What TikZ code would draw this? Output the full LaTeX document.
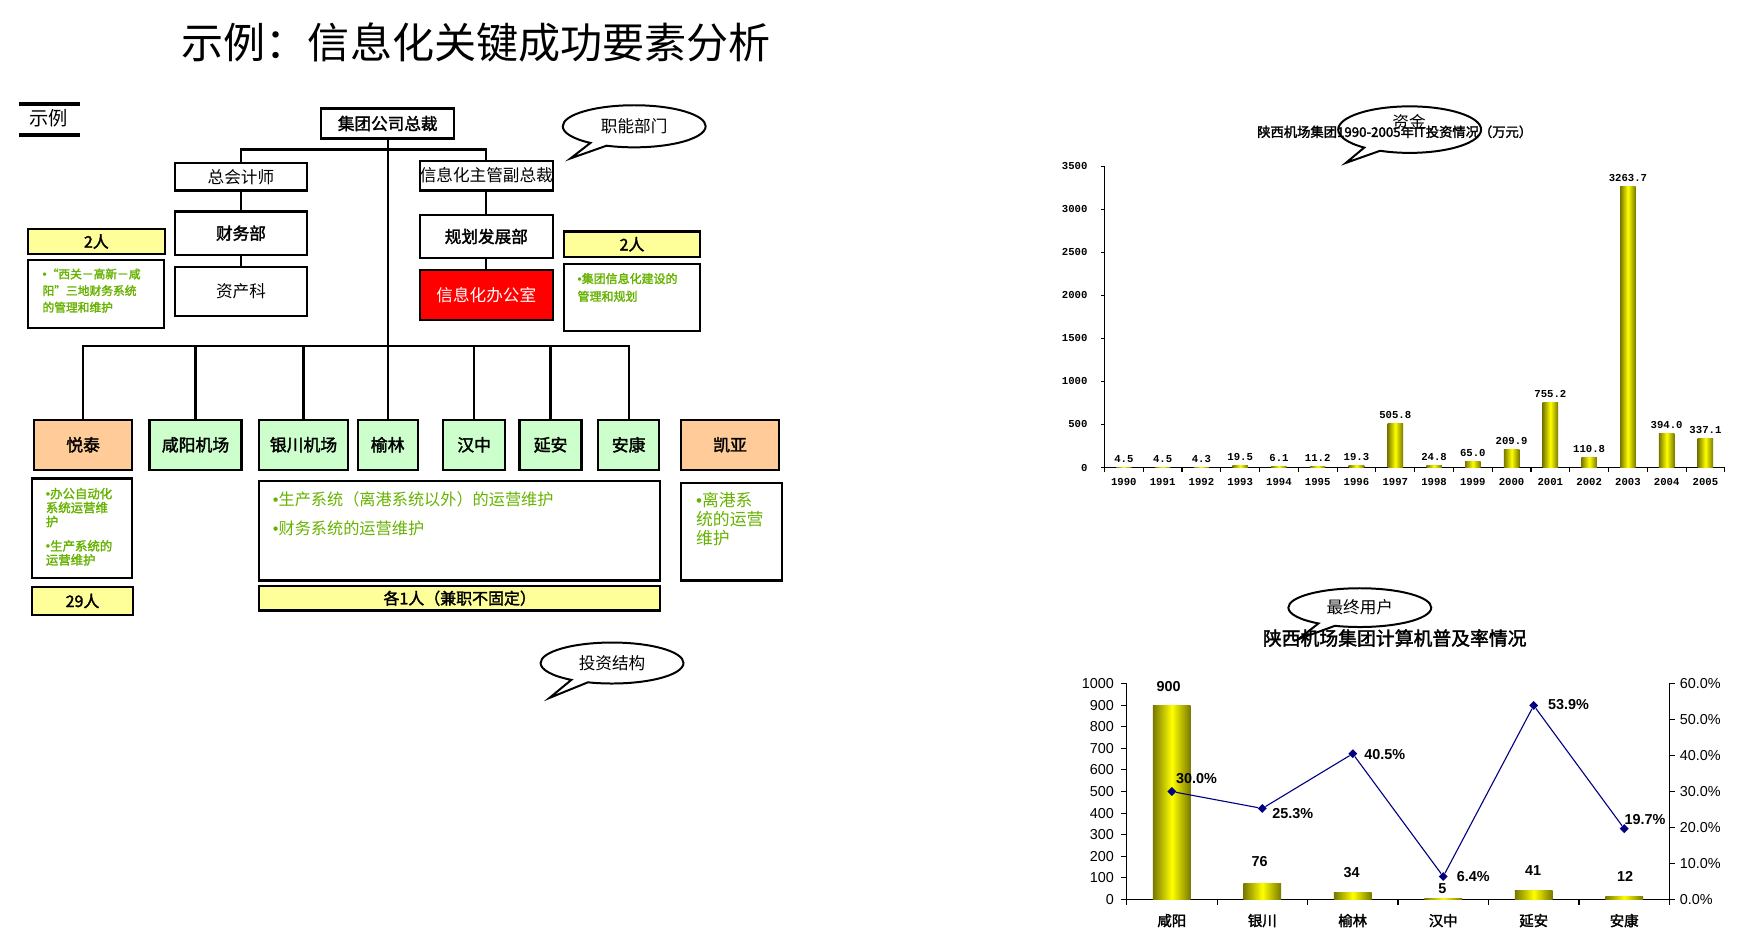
\documentclass[tikz,border=0pt]{standalone}
\usepackage{fontspec}
\setmainfont{Noto Sans CJK SC}[AutoFakeBold=2]
\newfontfamily\arialf{Liberation Sans}
\newfontfamily\monof{Liberation Mono}
\usetikzlibrary{shapes.callouts,shapes.geometric}
\definecolor{gtext}{RGB}{102,178,0}
\definecolor{pyellow}{RGB}{255,255,153}
\definecolor{pgreen}{RGB}{204,255,204}
\definecolor{porange}{RGB}{255,204,153}
\definecolor{navyc}{RGB}{0,0,128}
\definecolor{olivec}{RGB}{120,120,0}
\newcommand\fsz[1]{\fontsize{#1}{#1}\selectfont}
\newcommand\bul{{\arialf •}}
\begin{document}
\begin{tikzpicture}[x=0.5pt,y=-0.5pt,
  box/.style={draw, line width=1pt, inner sep=0pt, align=center, font=\fsz{7.5}},
  bbox/.style={box, font=\bfseries\fsz{7.5}},
  ybox/.style={box, fill=pyellow, font=\bfseries\fsz{7.2}},
  gbox/.style={box, fill=pgreen, font=\bfseries\fsz{7.6}},
  obox/.style={box, fill=porange, font=\bfseries\fsz{7.6}},
  gtxt/.style={text=gtext, align=left, inner sep=0pt, anchor=north west},
  conn/.style={line width=1pt},
  bubble/.style={ellipse callout, draw, line width=0.9pt, inner sep=0pt, minimum width=64.5pt, font=\fsz{7.5}},
  barshade/.style={left color=olivec, right color=olivec, middle color=yellow},
  vlab/.style={font=\monof\bfseries\fsz{4.8}, inner sep=0pt},
  tlab/.style={font=\arialf\fsz{6.5}, inner sep=0pt},
  blab/.style={font=\arialf\bfseries\fsz{6.5}, inner sep=0pt},
  clab/.style={font=\bfseries\fsz{6.5}, inner sep=0pt},
  dmark/.style={diamond, fill=navyc, inner sep=0pt, minimum size=4.2pt}
]
\useasboundingbox (0,0) rectangle (1568,858);

% title
\node[font=\fsz{19}, inner sep=0pt] (title) at (430,38) {示例：信息化关键成功要素分析};

% example tag
\node[font=\fsz{8.7}, inner sep=0pt] (ex) at (44,107) {示例};
\draw[line width=1.8pt] (17,94) -- (72,94);
\draw[line width=2pt] (17,122) -- (72,122);

% ---- org chart ----
\node[bbox, minimum width=60pt, minimum height=13.5pt] (ceo) at (350,111.5) {集团公司总裁};
\node[box, minimum width=59.5pt, minimum height=12.5pt] (acct) at (217.5,159.5) {总会计师};
\node[bbox, minimum width=59.5pt, minimum height=19.5pt] (fin) at (217.5,210.5) {财务部};
\node[box, minimum width=59.5pt, minimum height=22pt] (asset) at (217.5,263) {资产科};
\node[box, minimum width=60pt, minimum height=13.5pt] (vp) at (439,158.5) {信息化主管副总裁};
\node[bbox, minimum width=60pt, minimum height=19.5pt] (plan) at (439,213.5) {规划发展部};
\node[box, fill=red, text=white, minimum width=60pt, minimum height=22.5pt] (office) at (439,266.5) {信息化办公室};

\node[ybox, minimum width=62pt, minimum height=11pt] (lp) at (87,218) {2人};
\node[box, minimum width=61.5pt, minimum height=30.5pt] (lbox) at (86.5,265.5) {};
\node[gtxt, font=\bfseries\fontsize{5.3}{7.5}\selectfont] (ltx) at (38,242) {\bul“西关－高新－咸\\阳”三地财务系统\\的管理和维护};

\node[ybox, minimum width=61.5pt, minimum height=11.5pt] (rp) at (570.5,220.5) {2人};
\node[box, minimum width=61.5pt, minimum height=30.5pt] (rbox) at (570.5,268.5) {};
\node[gtxt, font=\bfseries\fontsize{5.4}{8}\selectfont] (rtx) at (521,246) {\bul 集团信息化建设的\\管理和规划};

% bottom row
\node[obox, minimum width=44pt, minimum height=22.5pt] (yt) at (75,401.5) {悦泰};
\node[gbox, minimum width=41.5pt, minimum height=22.5pt] (xy) at (176.5,401.5) {咸阳机场};
\node[gbox, minimum width=40pt, minimum height=22.5pt] (yc) at (274,401.5) {银川机场};
\node[gbox, minimum width=27pt, minimum height=22.5pt] (yl) at (350,401.5) {榆林};
\node[gbox, minimum width=28pt, minimum height=22.5pt] (hz) at (428,401.5) {汉中};
\node[gbox, minimum width=28pt, minimum height=22.5pt] (ya) at (497,401.5) {延安};
\node[gbox, minimum width=27.5pt, minimum height=22.5pt] (ak) at (567.5,401.5) {安康};
\node[obox, minimum width=44pt, minimum height=22.5pt] (ky) at (659,401.5) {凯亚};

\node[box, minimum width=45pt, minimum height=45pt] (ytbox) at (74,477) {};
\node[gtxt, font=\bfseries\fontsize{5.6}{6.3}\selectfont] (yttx) at (41,440) {\bul 办公自动化\\系统运营维\\护\\[4.7pt]\bul 生产系统的\\运营维护};
\node[ybox, minimum width=45.5pt, minimum height=12.5pt] (yt29) at (74.5,542.5) {29人};

\node[box, minimum width=181pt, minimum height=45pt] (midbox) at (415,479) {};
\node[gtxt, font=\fontsize{7.3}{13.5}\selectfont] (mtx) at (246,443) {\bul 生产系统（离港系统以外）的运营维护\\\bul 财务系统的运营维护};
\node[ybox, minimum width=181pt, minimum height=11pt] (mid1) at (415,540) {各1人（兼职不固定）};

\node[box, minimum width=45.5pt, minimum height=44pt] (kybox) at (660.5,480) {};
\node[gtxt, font=\fontsize{7.6}{8.5}\selectfont] (kytx) at (628,444) {\bul 离港系\\统的运营\\维护};

% connectors
\draw[conn] (ceo.south) -- (yl.north);
\draw[conn] (acct.north) -- ++(0,-11) -| (vp.north);
\draw[conn] (acct) -- (fin);
\draw[conn] (fin) -- (asset);
\draw[conn] (vp) -- (plan);
\draw[conn] (plan) -- (office);
\draw[conn] (yt.north) -- ++(0,-66) coordinate (busL) -| (ak.north);
\foreach \n in {xy,yc,hz,ya} \draw[conn] (\n.north) -- (\n.north |- busL);

% callouts
\node[bubble, fill=white, minimum height=19pt, callout absolute pointer={(515,143)}] (c1) at (572.5,114) {职能部门};
\node[bubble, minimum height=18.5pt, callout absolute pointer={(496,630)}] (c4) at (552.5,598.5) {投资结构};

% ---- chart 1 ----
\node[bubble, minimum height=21pt, callout absolute pointer={(1215,147)}] (c2) at (1272.5,117) {};
\node[font=\fsz{7.5}, inner sep=0pt] (c2t) at (1272,110) {资金};
\node[font=\bfseries\fsz{6}, inner sep=0pt] (t1) at (1259,119) {陕西机场集团1990-2005年IT投资情况（万元）};
\draw[line width=0.5pt] (997,150) -- (997,422) -- (1557,422);
\foreach \t in {0,500,...,3500}{
  \draw[line width=0.5pt] (994,422-0.077714*\t) -- (997,422-0.077714*\t);
  \node[vlab, anchor=east] (a-y\t) at (982,422-0.077714*\t) {\t};
}
\foreach \k in {0,...,16} \draw[line width=0.5pt] (997+35*\k,422) -- (997+35*\k,426);
\foreach \val [count=\i from 0] in {4.5,4.5,4.3,19.5,6.1,11.2,19.3,505.8,24.8,65.0,209.9,755.2,110.8,3263.7,394.0,337.1}{
  \pgfmathsetmacro\xc{1014.5+35*\i}
  \pgfmathsetmacro\yt{422-0.077714*\val}
  \path[barshade] (\xc-7,422) rectangle (\xc+7,\yt);
  \node[vlab, anchor=south] (a-v\i) at (\xc,\yt-4) {\val};
}
\foreach \yy [count=\i from 0] in {1990,...,2005}
  \node[vlab] (a-x\i) at (1014.5+35*\i,435) {\yy};

% ---- chart 2 ----
\node[bubble, minimum height=17.5pt, callout absolute pointer={(1172,577)}] (c3) at (1227.5,548.5) {最终用户};
\node[font=\bfseries\fsz{8.5}, inner sep=0pt] (t2) at (1259,576) {陕西机场集团计算机普及率情况};
\draw[line width=0.5pt] (1017,617) -- (1017,812) -- (1507,812) -- (1507,617);
\foreach \t in {0,...,10} \draw[line width=0.5pt] (1012,812-19.5*\t) -- (1017,812-19.5*\t);
\foreach \t in {0,...,6} \draw[line width=0.5pt] (1507,812-32.5*\t) -- (1512,812-32.5*\t);
\foreach \k in {0,...,6} \draw[line width=0.5pt] (1017+81.67*\k,812) -- (1017+81.67*\k,817);
\foreach \t in {0,100,...,1000}
  \node[tlab, anchor=east] (b-l\t) at (1006,812-0.195*\t) {\t};
\foreach \t/\s in {0/0.0,1/10.0,2/20.0,3/30.0,4/40.0,5/50.0,6/60.0}
  \node[tlab, anchor=west] (b-r\t) at (1516,812-32.5*\t) {\s\%};
\foreach \val/\lx/\ly [count=\i from 0] in {900/1055/620,76/1137/778,34/1220/788,5/1302/802,41/1384/786,12/1467/791}{
  \pgfmathsetmacro\xc{1057.8+81.67*\i}
  \pgfmathsetmacro\yt{812-0.195*\val}
  \path[barshade] (\xc-17,812) rectangle (\xc+17,\yt);
  \node[blab] (b-v\i) at (\lx,\ly) {\val};
}
\foreach \c [count=\i from 0] in {咸阳,银川,榆林,汉中,延安,安康}
  \node[clab] (b-c\i) at (1057.8+81.67*\i,831) {\c};
\foreach \pc/\lx/\ly [count=\i from 0] in {30.0/1080/703,25.3/1167/734,40.5/1250/681,6.4/1330/791,53.9/1416/636,19.7/1485/740}{
  \node[dmark] (m\i) at (1057.8+81.67*\i,812-3.25*\pc) {};
  \node[blab] (p\i) at (\lx,\ly) {\pc\%};
}
\draw[navyc, line width=0.5pt] (m0) -- (m1) -- (m2) -- (m3) -- (m4) -- (m5);
\end{tikzpicture}
\end{document}
